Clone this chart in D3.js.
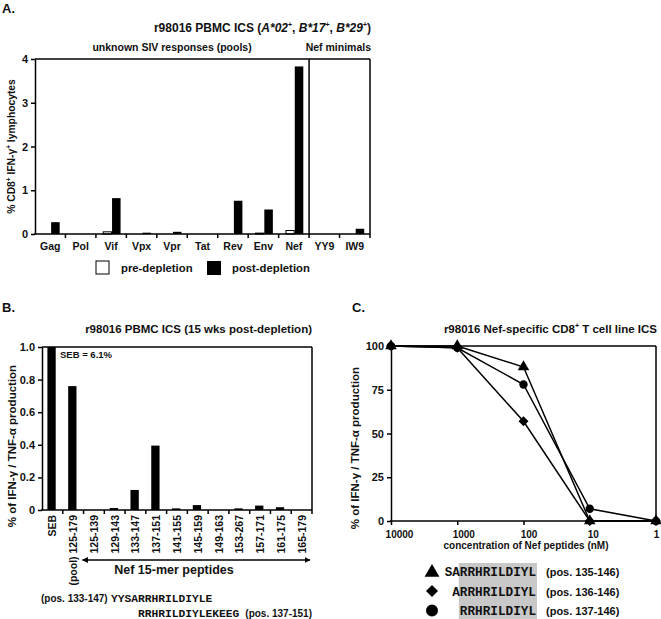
<!DOCTYPE html>
<html><head><meta charset="utf-8">
<script src="https://cdn.jsdelivr.net/npm/d3@7"></script>
<style>
body{margin:0;background:#fff}
svg{display:block}
text{font-family:"Liberation Sans",Arial,sans-serif;font-weight:bold;fill:#111}
text.mono{font-family:"Liberation Mono","Courier New",monospace;font-weight:bold}
</style></head><body>
<svg id="chart" width="661" height="619"></svg>
<script>
// ---------- Panel A data ----------
const catsA = ["Gag","Pol","Vif","Vpx","Vpr","Tat","Rev","Env","Nef","YY9","IW9"];
const preA  = [0, 0, 0.05, 0, 0, 0, 0, 0.02, 0.08, 0, 0];
const postA = [0.27, 0, 0.82, 0.03, 0.05, 0, 0.76, 0.56, 3.83, 0, 0.12];
const ticksA = [0, 1, 2, 3, 4];
const seriesA = ["pre-depletion", "post-depletion"];

// ---------- Panel B data ----------
const catsB = ["SEB","(pool) 125-179","125-139","129-143","133-147","137-151","141-155","145-159","149-163","153-267","157-171","161-175","165-179"];
const valsB = [6.1, 0.76, 0, 0.012, 0.123, 0.395, 0.01, 0.03, 0, 0.01, 0.027, 0.017, 0];
const ticksB = [0, 0.2, 0.4, 0.6, 0.8, 1.0];

// ---------- Panel C data ----------
const concC = [10000, 1000, 100, 10, 1];
const triC  = [100, 100, 88, 0, 0];
const diaC  = [100, 99, 57, 0, 0];
const cirC  = [100, 99, 78, 7, 0];
const ticksC = [0, 25, 50, 75, 100];
const seqC = ["SARRHRILDIYL", "ARRHRILDIYL", "RRHRILDIYL"];
const posC = ["(pos. 135-146)", "(pos. 136-146)", "(pos. 137-146)"];

const svg = d3.select("#chart");
const SW = 1.5;

function line(g, x1, y1, x2, y2, w) {
  g.append("line").attr("x1", x1).attr("y1", y1).attr("x2", x2).attr("y2", y2)
    .attr("stroke", "#000").attr("stroke-width", w || SW);
}
function styleAxis(g, fs) {
  g.attr("font-family", null).attr("font-size", fs);
  g.selectAll("path").attr("stroke", "#000").attr("stroke-width", SW);
  g.selectAll("line").attr("stroke", "#000").attr("stroke-width", SW);
  g.selectAll("text").attr("fill", "#111");
}

// ================= PANEL A =================
const A = {l: 35, r: 370, t: 59, b: 234};
const xA = d3.scaleBand().domain(catsA).range([A.l, A.r]).padding(0);
const yA = d3.scaleLinear().domain([0, 4]).range([A.b, A.t]);
const gA = svg.append("g");
const bwA = xA.bandwidth();

gA.append("text").attr("x", 2).attr("y", 13).attr("font-size", 13).text("A.");
const tA = gA.append("text").attr("x", A.r + 1).attr("y", 32).attr("font-size", 12).attr("text-anchor", "end");
tA.append("tspan").text("r98016 PBMC ICS (");
[["A*02", ", "], ["B*17", ", "], ["B*29", ")"]].forEach(([al, sep]) => {
  tA.append("tspan").attr("font-style", "italic").text(al);
  tA.append("tspan").attr("font-size", 7).attr("dy", -5).text("+");
  tA.append("tspan").attr("dy", 5).text(sep);
});
gA.append("text").attr("x", (A.l + xA("YY9")) / 2).attr("y", 51).attr("font-size", 10.5)
  .attr("text-anchor", "middle").text("unknown SIV responses (pools)");
gA.append("text").attr("x", A.r + 1).attr("y", 51).attr("font-size", 10.5)
  .attr("text-anchor", "end").text("Nef minimals");

// bars
gA.selectAll("rect.pre").data(catsA.map((c, i) => ({c, v: preA[i]})).filter(d => d.v > 0))
  .join("rect").attr("class", "pre")
  .attr("x", d => xA(d.c) + bwA * 0.24).attr("width", bwA * 0.27)
  .attr("y", d => yA(d.v)).attr("height", d => yA(0) - yA(d.v))
  .attr("fill", "#fff").attr("stroke", "#000").attr("stroke-width", 1);
gA.selectAll("rect.post").data(catsA.map((c, i) => ({c, v: postA[i]})).filter(d => d.v > 0))
  .join("rect").attr("class", "post")
  .attr("x", d => xA(d.c) + bwA * 0.53).attr("width", bwA * 0.28)
  .attr("y", d => yA(d.v)).attr("height", d => yA(0) - yA(d.v))
  .attr("fill", "#000");

// frame
line(gA, A.l, A.t, A.r, A.t);
line(gA, A.r, A.t, A.r, A.b + 4);
line(gA, xA("YY9"), A.t, xA("YY9"), A.b);
line(gA, A.l - 1, A.b, A.r, A.b);
catsA.forEach(c => { if (xA(c) > A.l) line(gA, xA(c), A.b, xA(c), A.b + 4); });
const axA = gA.append("g").attr("transform", `translate(${A.l},0)`)
  .call(d3.axisLeft(yA).tickValues(ticksA).tickFormat(d3.format("d")).tickSize(4).tickSizeOuter(0).tickPadding(3));
styleAxis(axA, 11);
gA.selectAll("text.xl").data(catsA).join("text").attr("class", "xl")
  .attr("x", d => xA(d) + bwA / 2).attr("y", 250).attr("font-size", 10.5)
  .attr("text-anchor", "middle").text(d => d);
// y label
const ylA = gA.append("text").attr("transform", `translate(15,${(A.t + A.b) / 2}) rotate(-90)`)
  .attr("text-anchor", "middle").attr("font-size", 10.3);
ylA.append("tspan").text("% CD8");
ylA.append("tspan").attr("font-size", 6.5).attr("dy", -4).text("+");
ylA.append("tspan").attr("dy", 4).text(" IFN-γ");
ylA.append("tspan").attr("font-size", 6.5).attr("dy", -4).text("+");
ylA.append("tspan").attr("dy", 4).text(" lymphocytes");
// legend
gA.append("rect").attr("x", 96).attr("y", 261).attr("width", 13).attr("height", 13)
  .attr("fill", "#fff").attr("stroke", "#000").attr("stroke-width", 1);
gA.append("text").attr("x", 121).attr("y", 272).attr("font-size", 11.3).text(seriesA[0]);
gA.append("rect").attr("x", 207).attr("y", 261).attr("width", 14).attr("height", 14).attr("fill", "#000");
gA.append("text").attr("x", 232).attr("y", 272).attr("font-size", 11.3).text(seriesA[1]);

// ================= PANEL B =================
const B = {l: 42, r: 312, t: 347, b: 510};
const xB = d3.scaleBand().domain(catsB).range([B.l, B.r]).padding(0);
const yB = d3.scaleLinear().domain([0, 1]).range([B.b, B.t]).clamp(true);
const bwB = xB.bandwidth();
const gB = svg.append("g");
gB.append("text").attr("x", 2).attr("y", 312).attr("font-size", 13).text("B.");
gB.append("text").attr("x", B.r).attr("y", 333).attr("font-size", 11.5).attr("text-anchor", "end")
  .text("r98016 PBMC ICS (15 wks post-depletion)");
gB.selectAll("rect.b").data(catsB.map((c, i) => ({c, v: valsB[i]})).filter(d => d.v > 0))
  .join("rect").attr("class", "b")
  .attr("x", d => xB(d.c) + bwB * 0.26).attr("width", bwB * 0.4)
  .attr("y", d => yB(d.v)).attr("height", d => yB(0) - yB(d.v)).attr("fill", "#000");
line(gB, B.l, B.t, B.r, B.t);
line(gB, B.r, B.t, B.r, B.b + 4);
line(gB, B.l - 1, B.b, B.r, B.b);
catsB.forEach(c => { if (xB(c) > B.l) line(gB, xB(c), B.b, xB(c), B.b + 4); });
const axB = gB.append("g").attr("transform", `translate(${B.l},0)`)
  .call(d3.axisLeft(yB).tickValues(ticksB).tickSize(4).tickSizeOuter(0).tickPadding(3)
    .tickFormat(d => d === 0 ? "0" : d3.format(".1f")(d)));
styleAxis(axB, 11);
gB.append("text").attr("x", 60).attr("y", 358).attr("font-size", 9.5).text("SEB = " + valsB[0] + "%");
gB.selectAll("text.xl").data(catsB).join("text").attr("class", "xl")
  .attr("transform", d => `translate(${xB(d) + bwB / 2 + 4},515) rotate(-90)`)
  .attr("text-anchor", "end").attr("font-size", 10.5).text(d => d);
gB.append("text").attr("transform", `translate(16,446) rotate(-90)`)
  .attr("text-anchor", "middle").attr("font-size", 11.5).text("% of IFN-γ / TNF-α production");
// arrow
const defs = svg.append("defs");
defs.append("marker").attr("id", "ah").attr("viewBox", "0 0 10 10").attr("refX", 9).attr("refY", 5)
  .attr("markerWidth", 6).attr("markerHeight", 6).attr("orient", "auto-start-reverse")
  .attr("markerUnits", "userSpaceOnUse")
  .append("path").attr("d", "M0,0 L10,5 L0,10 z").attr("fill", "#000");
gB.append("line").attr("x1", xB(catsB[2]) - 1).attr("x2", B.r - 2).attr("y1", 560).attr("y2", 560)
  .attr("stroke", "#000").attr("stroke-width", 1.3)
  .attr("marker-start", "url(#ah)").attr("marker-end", "url(#ah)");
gB.append("text").attr("x", 174).attr("y", 574).attr("font-size", 12.5).attr("text-anchor", "middle")
  .text("Nef 15-mer peptides");
// sequences
gB.append("text").attr("x", 41).attr("y", 602).attr("font-size", 10).text("(pos. 133-147)");
gB.append("text").attr("class", "mono").attr("x", 111).attr("y", 602).attr("font-size", 11.25).text("YYSARRHRILDIYLE");
gB.append("text").attr("class", "mono").attr("x", 138).attr("y", 616.5).attr("font-size", 11.25).text("RRHRILDIYLEKEEG");
gB.append("text").attr("x", B.r).attr("y", 616.5).attr("font-size", 10).attr("text-anchor", "end").text("(pos. 137-151)");

// ================= PANEL C =================
const C = {l: 391, r: 656, t: 346, b: 521};
const xC = d3.scaleLog().domain([10000, 1]).range([C.l, C.r]);
const yC = d3.scaleLinear().domain([0, 100]).range([C.b, C.t]);
const gC = svg.append("g");
gC.append("text").attr("x", 352).attr("y", 312).attr("font-size", 13).text("C.");
const tC = gC.append("text").attr("x", C.r + 1).attr("y", 333).attr("font-size", 11.5).attr("text-anchor", "end");
tC.append("tspan").text("r98016 Nef-specific CD8");
tC.append("tspan").attr("font-size", 7).attr("dy", -5).text("+");
tC.append("tspan").attr("dy", 5).text(" T cell line ICS");
line(gC, C.l, C.t, C.r, C.t);
line(gC, C.r, C.t, C.r, C.b);
const axCx = gC.append("g").attr("transform", `translate(0,${C.b})`)
  .call(d3.axisBottom(xC).tickValues(concC).tickFormat(d => String(d)).tickSize(4).tickSizeOuter(0).tickPadding(6));
styleAxis(axCx, 10);
axCx.select("path").attr("d", `M${C.l - 1},0H${C.r}`);
axCx.selectAll(".tick text").attr("dx", (d, i) => [8, 6, 5, 3, 0][i]);
const axCy = gC.append("g").attr("transform", `translate(${C.l},0)`)
  .call(d3.axisLeft(yC).tickValues(ticksC).tickSize(4).tickSizeOuter(0).tickPadding(3));
styleAxis(axCy, 11);
gC.append("text").attr("x", 526).attr("y", 549).attr("font-size", 10).attr("text-anchor", "middle")
  .text("concentration of Nef peptides (nM)");
gC.append("text").attr("transform", `translate(359,448) rotate(-90)`)
  .attr("text-anchor", "middle").attr("font-size", 11.5).text("% of IFN-γ / TNF-α production");

const series = [
  {vals: cirC, sym: d3.symbolCircle, size: 55, rot: 0},
  {vals: diaC, sym: d3.symbolSquare, size: 50, rot: 45},
  {vals: triC, sym: d3.symbolTriangle, size: 58, rot: 0}
];
const lg = d3.line().x(d => xC(d.c)).y(d => yC(d.v));
series.forEach(s => {
  const pts = concC.map((c, i) => ({c, v: s.vals[i]}));
  gC.append("path").attr("d", lg(pts)).attr("fill", "none").attr("stroke", "#000").attr("stroke-width", 1.5);
});
series.forEach(s => {
  const pts = concC.map((c, i) => ({c, v: s.vals[i]}));
  gC.selectAll(null).data(pts).join("path")
    .attr("transform", d => `translate(${xC(d.c)},${yC(d.v)}) rotate(${s.rot})`)
    .attr("d", d3.symbol(s.sym, s.size)).attr("fill", "#000");
});

// legend C
const fsSeq = 12.7, cw = fsSeq * 0.6, seqEnd = 536;
gC.append("rect").attr("x", seqEnd - cw * 10 - 1).attr("y", 563).attr("width", cw * 10 + 2).attr("height", 56)
  .attr("fill", "#c8c8c8");
const legSyms = [
  {sym: d3.symbolTriangle, size: 95, rot: 0},
  {sym: d3.symbolSquare, size: 72, rot: 45},
  {sym: d3.symbolCircle, size: 113, rot: 0}
];
seqC.forEach((s, i) => {
  const y = 571.5 + i * 19.5;
  gC.append("path").attr("transform", `translate(432,${y + (i === 0 ? 1 : 0)}) rotate(${legSyms[i].rot})`)
    .attr("d", d3.symbol(legSyms[i].sym, legSyms[i].size)).attr("fill", "#000");
  gC.append("text").attr("class", "mono").attr("x", seqEnd).attr("y", y + 4.5).attr("font-size", fsSeq)
    .attr("text-anchor", "end").text(s);
  gC.append("text").attr("x", 546).attr("y", y + 4.5).attr("font-size", 11).text(posC[i]);
});
</script>
</body></html>
